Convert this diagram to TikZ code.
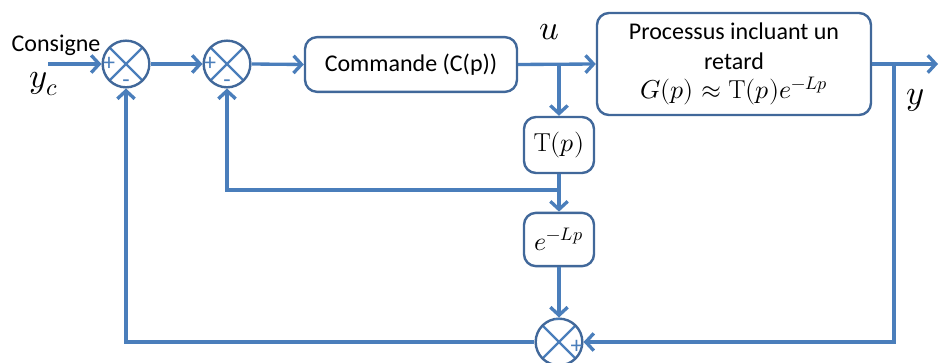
\documentclass[tikz,border=0pt]{standalone}
\usepackage{fontspec}
\usepackage{unicode-math}
\setmainfont{Carlito}
\setmathfont{Latin Modern Math}[Scale=1.08]
\setmathrm{Latin Modern Roman}[Scale=1.08]
\usepackage{tikz}
\usetikzlibrary{arrows.meta, positioning}
\definecolor{wireblue}{HTML}{4A7EBB}
\definecolor{boxblue}{HTML}{41689A}

\begin{document}
\begin{tikzpicture}[
  x=0.75pt, y=-0.75pt,
  block/.style={draw=boxblue, fill=white, rounded corners=9pt, line width=1.8pt, align=center, inner sep=0pt, font=\fontsize{18}{22}\selectfont},
  summer/.style={circle, draw=boxblue, line width=1.8pt, minimum size=35pt, inner sep=0pt,
    path picture={\draw[wireblue, line width=1.8pt] (path picture bounding box.north west) -- (path picture bounding box.south east)
      (path picture bounding box.north east) -- (path picture bounding box.south west);}},
  sgn/.style={font=\fontsize{18}{18}\selectfont, text=wireblue, inner sep=0.5pt},
  lbl/.style={font=\fontsize{24}{28}\selectfont},
  wire/.style={wireblue, line width=2.5pt},
  arr/.style={-{Straight Barb[length=6pt, width=13pt]}, wireblue, line width=2.5pt}
]
\useasboundingbox (0,0) rectangle (939,363);

% Forward path
\node[summer] (s1) at (126,64) {};
\node[summer] (s2) at (227,64) {};
\node[block, minimum width=159pt, minimum height=41pt] (cmd) at (411,64.5) {Commande (C(p))};
\node[block, minimum width=205.5pt, minimum height=76.5pt] (proc) at (734,64) {Processus incluant un\\retard\\$G(p)\approx \mathrm{T}(p)e^{-Lp}$};

% Predictor branch
\node[block, minimum width=52.5pt, minimum height=42pt] (tp) at (559,145) {$\mathrm{T}(p)$};
\node[block, minimum width=52.5pt, minimum height=40pt] (eb) at (559,239.5) {$e^{-Lp}$};
\node[summer] (s3) at (559,342) {};

% Signs
\node[sgn, right=0.5pt of s1.west] (s1p) {+};
\node[sgn, above=0pt of s1.south] (s1m) {-};
\node[sgn, right=0.5pt of s2.west] (s2p) {+};
\node[sgn, above=0pt of s2.south] (s2m) {-};
\node[sgn, below=0pt of s3.north, xshift=-1pt] (s3m) {-};
\node[sgn, left=0pt of s3.east, yshift=-4pt] (s3p) {+};

% Labels
\node[font=\fontsize{18}{22}\selectfont] (cons) at (56,45) {Consigne};
\node[lbl] (yc) at (44,84) {$y_c$};
\node[lbl] (ul) at (549,32) {$u$};
\node[lbl] (yl) at (915,100) {$y$};

% Branch points
\coordinate (in) at (48,64);
\coordinate (out) at (938,64);
\coordinate (bu) at (559,64);
\coordinate (by) at (894,64);
\coordinate (bt) at (559,190);

\draw[arr] (in) -- (s1.west);
\draw[arr] (s1.east) -- (s2.west);
\draw[arr] (s2.east) -- (cmd.west);
\draw[arr] (cmd.east) -- (proc.west);
\draw[arr] (proc.east) -- (out);
\draw[arr] (bu) -- (tp.north);
\draw[arr] (tp.south) -- (eb.north);
\draw[arr] (bt) -| (s2.south);
\draw[arr] (eb.south) -- (s3.north);
\draw[arr] (by) |- (s3.east);
\draw[arr] (s3.west) -| (s1.south);

\end{tikzpicture}
\end{document}
